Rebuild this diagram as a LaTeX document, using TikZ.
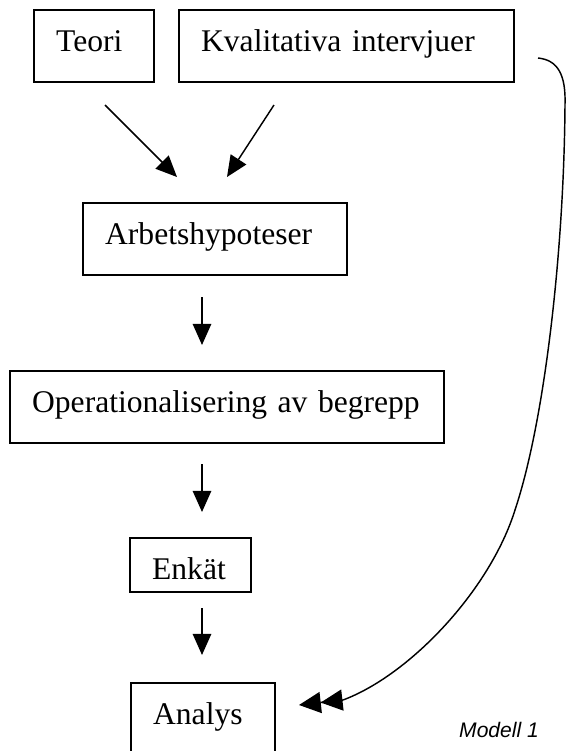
\documentclass[tikz,border=0pt]{standalone}
\usepackage{fontspec}
\setmainfont{Liberation Serif}
\newfontfamily\modfont{Liberation Sans}
\usetikzlibrary{arrows.meta}
\tikzset{>={Triangle[length=8pt,width=7pt]}}
\tikzset{
	box/.style={draw, line width=.8pt, anchor=north west, align=left, inner xsep=8.4pt, inner ysep=0pt, text height=15.6pt, text depth=11.8pt, font=\fontsize{12}{14}\selectfont},
	arr/.style={->, line width=.55pt}
}

\begin{document}
\begin{tikzpicture}[x=.38pt,y=-.38pt]
		\useasboundingbox (0,0) rectangle (567,751);
		\node[box, text width=28.9pt] (teori) at (33,9) {Teori};
		\node[box, text width=110.6pt] (kval) at (178,9) {Kvalitativa intervjuer};
		\node[box, text width=83.6pt] (arb) at (82,202) {Arbetshypoteser};
		\node[box, text width=148.2pt] (oper) at (9,370) {Operationalisering av begrepp};
		\node[box, text width=29.3pt, text depth=4.9pt] (enkat) at (129,537) {Enkät};
		\node[box, text width=38pt, text depth=15pt] (analys) at (130,682) {Analys};% bottom cut off
		\node[font=\modfont\itshape\fontsize{8}{10}\selectfont, anchor=base] (modell) at (499,737) {Modell 1};
		
		% arrow ends
		\coordinate (a1) at (105,105); \coordinate (b1) at (177,177);
		\coordinate (a2) at (274,105); \coordinate (b2) at (227,177);
		\coordinate (a3) at (202,297); \coordinate (b3) at (202,345);
		\coordinate (a4) at (202,464); \coordinate (b4) at (202,512);
		\coordinate (a5) at (202,608); \coordinate (b5) at (202,655);
		\draw[arr] (a1) -- (b1);
		\draw[arr] (a2) -- (b2);
		\draw[arr] (a3) -- (b3);
		\draw[arr] (a4) -- (b4);
		\draw[arr] (a5) -- (b5);
		
		% long curve to Analys
		\coordinate (c0) at (538,58); \coordinate (c1) at (299,705);
		\draw[line width=.55pt, -{Triangle[length=8.3pt,width=8pt,sep=0pt]Triangle[length=8.3pt,width=8pt,sep=0pt]}] (c0) .. controls (558,60) and (566,75) .. (565,105) .. controls (564,250) and (545,420) .. (515,510) .. controls (490,590) and (410,675) .. (343,700) -- (c1);
\end{tikzpicture}
\end{document}
